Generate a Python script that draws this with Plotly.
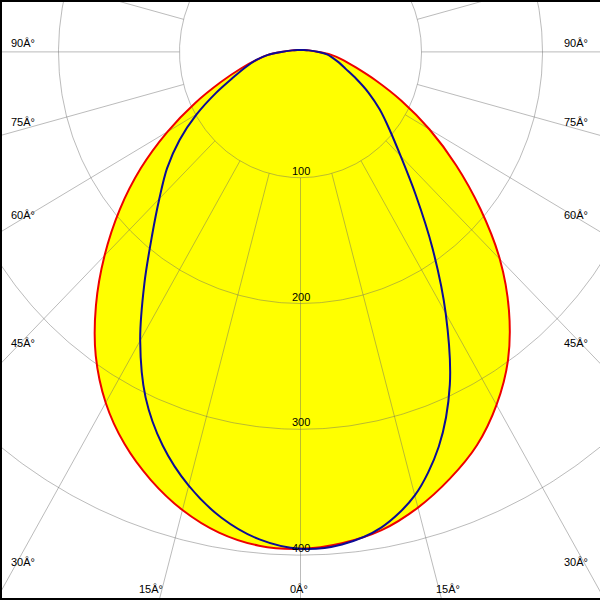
import numpy as np
import plotly.graph_objects as go

# ---- data (luminous intensity, cd) ----
gamma = [0, 5, 10, 15, 20, 25, 30, 35, 40, 45, 50, 55, 60, 65, 70, 75, 80, 85, 90,
         100, 120, 150, 180]
red_left = [395, 394, 388, 377, 362, 344, 322, 295, 263, 229, 195, 161, 127, 96, 70, 51, 37, 27, 16,
            7, 3, 1.8, 1.5]
red_right = [395, 392, 386, 375, 361, 345, 324, 299, 268, 233, 194, 157, 123, 92, 66, 47, 35, 25, 15,
             7, 3, 1.8, 1.5]
blue_left = [395, 389, 376, 357, 333, 303, 265, 225, 191, 165, 144, 122, 99, 77, 59, 47, 37, 27, 16,
             7, 3, 1.8, 1.5]
blue_right = [395, 393, 384, 365, 334, 292, 240, 190, 148, 117, 96, 80, 65, 51, 40, 33, 27, 22, 15,
              7, 3, 1.8, 1.5]

ring_values = [100, 200, 300, 400]
ring_labels = ["100", "200", "300", "400"]
grid_rings = [100, 200, 300, 400, 500, 600]
spoke_step = 15
spoke_inner = 100
spoke_outer = 700

left_angle_labels = ["90Â°", "75Â°", "60Â°", "45Â°", "30Â°"]
left_angle_ypix = [43, 122, 215, 343, 562]
bottom_angle_labels = ["15Â°", "0Â°", "15Â°"]
bottom_angle_xpix = [151, 299, 448]

# ---- geometry helpers ----
def to_xy(angles, values, side):
    a = np.radians(np.asarray(angles, float))
    v = np.asarray(values, float)
    return side * v * np.sin(a), -v * np.cos(a)

def closed_curve(left, right):
    xl, yl = to_xy(gamma, left, -1)
    xr, yr = to_xy(gamma, right, 1)
    x = np.concatenate([xl[::-1], xr[1:]])
    y = np.concatenate([yl[::-1], yr[1:]])
    return x, y

rx, ry = closed_curve(red_left, red_right)
bx, by = closed_curve(blue_left, blue_right)

fig = go.Figure()

line_shape = dict(shape="spline", smoothing=0.9)

# yellow fill
for cx, cy in [(rx, ry), (bx, by)]:
    fig.add_trace(go.Scatter(x=cx, y=cy, mode="lines", fill="toself",
                             fillcolor="#ffff00", line=dict(width=0, **line_shape),
                             hoverinfo="skip", showlegend=False))

# grid
grid_color = "rgba(105,105,105,0.45)"
t = np.linspace(0, 2 * np.pi, 721)
gx, gy = [], []
for r in grid_rings:
    gx += list(r * np.sin(t)) + [None]
    gy += list(-r * np.cos(t)) + [None]
for ang in range(0, 360, spoke_step):
    a = np.radians(ang)
    gx += [spoke_inner * np.sin(a), spoke_outer * np.sin(a), None]
    gy += [-spoke_inner * np.cos(a), -spoke_outer * np.cos(a), None]
fig.add_trace(go.Scatter(x=gx, y=gy, mode="lines", line=dict(color=grid_color, width=1),
                         hoverinfo="skip", showlegend=False))

# curves
fig.add_trace(go.Scatter(x=rx, y=ry, mode="lines",
                         line=dict(color="#ee0000", width=2, **line_shape),
                         hoverinfo="skip", showlegend=False))
fig.add_trace(go.Scatter(x=bx, y=by, mode="lines",
                         line=dict(color="#0c0c96", width=2, **line_shape),
                         hoverinfo="skip", showlegend=False))

font = dict(family="Liberation Sans, Arial, sans-serif", size=11, color="black")
annotations = []
for v, lab in zip(ring_values, ring_labels):
    annotations.append(dict(x=0, y=-v, xref="x", yref="y", text=lab, showarrow=False,
                            xanchor="center", yanchor="middle", yshift=7, font=font))
for lab, py in zip(left_angle_labels, left_angle_ypix):
    annotations.append(dict(x=9 / 600, y=1 - py / 600, xref="paper", yref="paper", text=lab,
                            showarrow=False, xanchor="left", yanchor="middle", font=font))
    annotations.append(dict(x=590 / 600, y=1 - py / 600, xref="paper", yref="paper", text=lab,
                            showarrow=False, xanchor="right", yanchor="middle", font=font))
for lab, px in zip(bottom_angle_labels, bottom_angle_xpix):
    annotations.append(dict(x=px / 600, y=1 - 589 / 600, xref="paper", yref="paper", text=lab,
                            showarrow=False, xanchor="center", yanchor="middle", font=font))

# pixel mapping: centre at (300.5, 51.9), 1.21 px/cd horizontally, 1.258 px/cd vertically
sx, sy, cxp, cyp = 1.21, 1.258, 300.5, 51.9
xrange = [-cxp / sx, (600 - cxp) / sx]
yrange = [(cyp - 600) / sy, cyp / sy]

shapes = [
    dict(type="rect", xref="paper", yref="paper", x0=0, x1=1, y0=1 - 2 / 600, y1=1,
         fillcolor="black", line=dict(width=0), layer="above"),
    dict(type="rect", xref="paper", yref="paper", x0=0, x1=2 / 600, y0=0, y1=1,
         fillcolor="black", line=dict(width=0), layer="above"),
    dict(type="rect", xref="paper", yref="paper", x0=0, x1=1, y0=0, y1=2 / 600,
         fillcolor="black", line=dict(width=0), layer="above"),
]

fig.update_layout(
    width=600, height=600, margin=dict(l=0, r=0, t=0, b=0),
    paper_bgcolor="white", plot_bgcolor="white", showlegend=False,
    xaxis=dict(range=xrange, visible=False, fixedrange=True),
    yaxis=dict(range=yrange, visible=False, fixedrange=True),
    annotations=annotations, shapes=shapes,
)

fig.write_html(
    "out.html",
    config={"displayModeBar": False},
    post_script="document.body.style.margin='0';document.body.style.overflow='hidden';",
)
